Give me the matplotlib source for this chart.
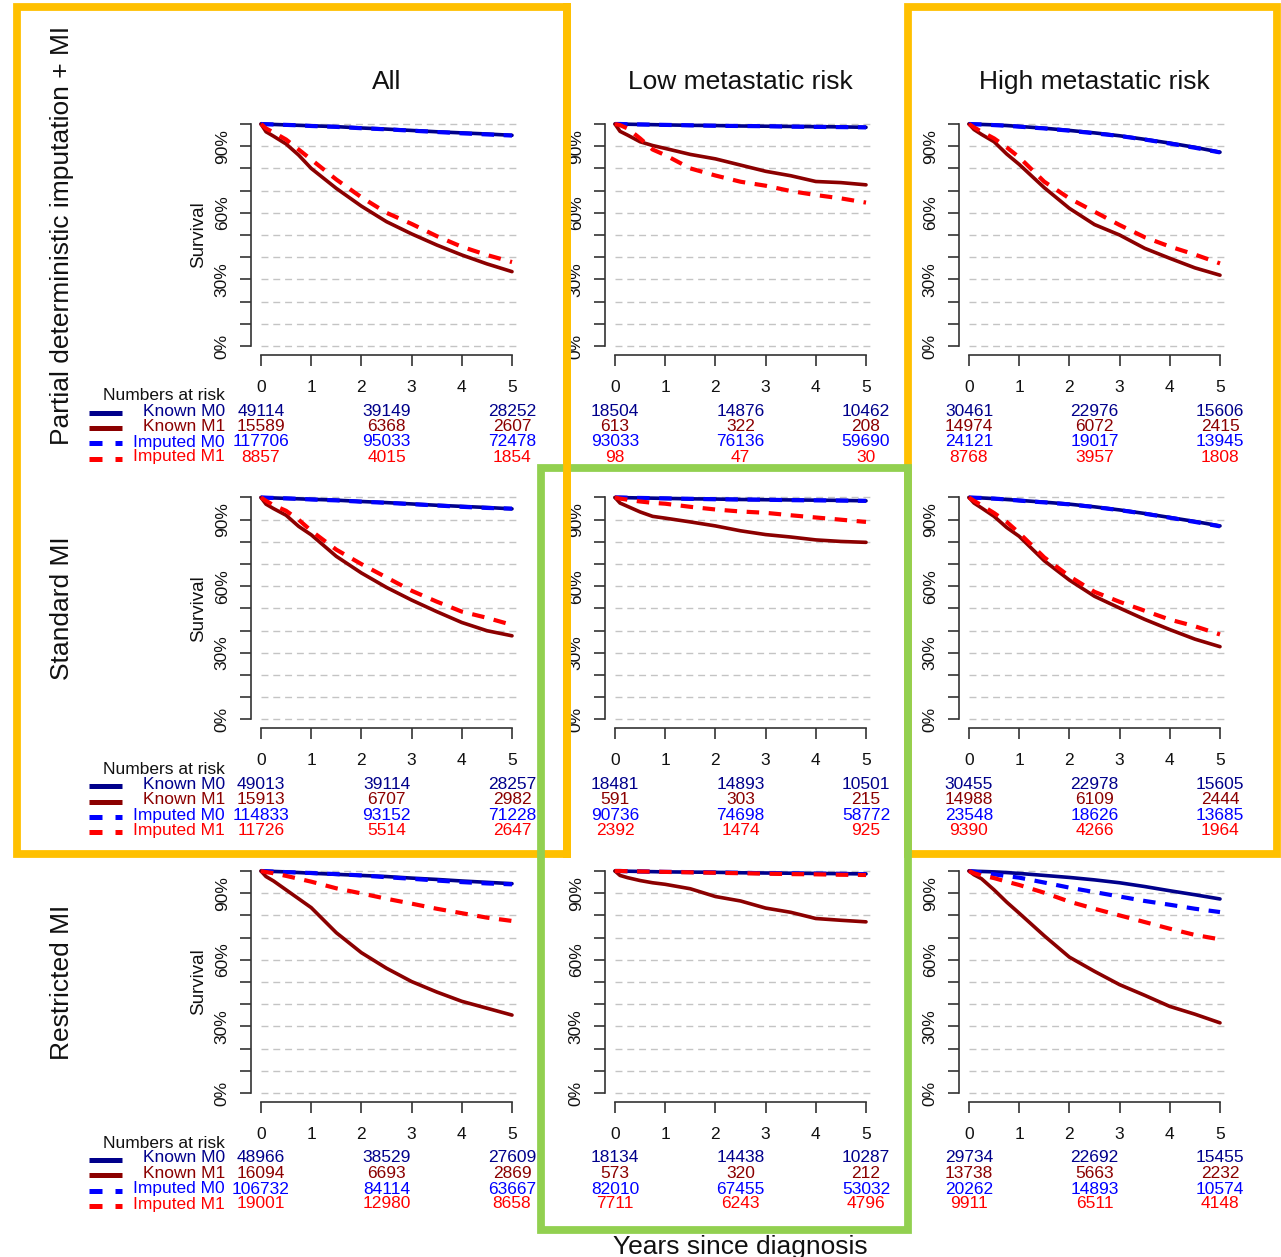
import matplotlib.pyplot as plt
from matplotlib.lines import Line2D
from matplotlib.patches import Rectangle
from matplotlib.transforms import blended_transform_factory

plt.rcParams['font.family'] = ['Liberation Sans', 'DejaVu Sans']

W, H = 1281, 1257

# time grid (years since diagnosis)
times = [0, 0.1, 0.25, 0.5, 0.75, 1, 1.5, 2, 2.5, 3, 3.5, 4, 4.5, 5]
risk_times = [0, 2.5, 5]

col_titles = ['All', 'Low metastatic risk', 'High metastatic risk']
row_titles = ['Partial deterministic imputation + MI', 'Standard MI', 'Restricted MI']
series_names = ['Known M0', 'Known M1', 'Imputed M0', 'Imputed M1']
series_colors = ['#00008B', '#8B0000', '#0000FF', '#FF0000']

# survival estimates per panel: [Known M0, Known M1, Imputed M0, Imputed M1]
pdi_all = [
    [1, .999, .998, .996, .994, .992, .988, .982, .977, .971, .965, .960, .955, .949],
    [1, .965, .945, .91, .86, .80, .71, .63, .56, .505, .455, .41, .37, .335],
    [1, .999, .998, .996, .994, .991, .987, .981, .976, .970, .964, .958, .953, .948],
    [1, .98, .962, .93, .885, .84, .75, .67, .60, .55, .495, .447, .41, .378],
]
pdi_low = [
    [1, 1, .999, .998, .997, .996, .994, .993, .991, .99, .989, .988, .987, .985],
    [1, .967, .95, .92, .903, .89, .863, .843, .815, .787, .767, .741, .736, .726],
    [1, 1, .999, .998, .997, .996, .994, .992, .991, .99, .988, .987, .986, .985],
    [1, .995, .98, .935, .885, .86, .80, .768, .74, .722, .698, .68, .665, .646],
]
pdi_high = [
    [1, .999, .998, .996, .993, .989, .981, .971, .96, .947, .931, .914, .895, .873],
    [1, .975, .953, .92, .865, .818, .713, .62, .547, .50, .44, .395, .352, .319],
    [1, .999, .998, .995, .992, .988, .98, .970, .958, .946, .930, .912, .893, .872],
    [1, .985, .965, .935, .895, .85, .74, .665, .605, .545, .49, .448, .412, .372],
]
std_all = [
    [1, .999, .998, .996, .994, .992, .988, .982, .977, .971, .965, .960, .955, .949],
    [1, .97, .95, .92, .87, .832, .735, .66, .595, .538, .486, .437, .40, .377],
    [1, .999, .998, .996, .994, .991, .987, .981, .976, .970, .964, .958, .953, .950],
    [1, .985, .965, .94, .90, .85, .765, .70, .64, .58, .531, .486, .458, .426],
]
std_low = [
    [1, 1, .999, .998, .997, .996, .994, .993, .991, .99, .989, .988, .987, .985],
    [1, .975, .96, .935, .915, .907, .89, .872, .85, .833, .822, .809, .802, .798],
    [1, 1, .999, .998, .997, .996, .994, .992, .991, .99, .988, .987, .986, .985],
    [1, .995, .99, .982, .976, .972, .958, .946, .937, .931, .92, .91, .90, .89],
]
std_high = [
    [1, .999, .998, .995, .991, .987, .979, .97, .958, .944, .928, .91, .892, .872],
    [1, .975, .953, .915, .865, .825, .715, .628, .555, .502, .451, .405, .362, .328],
    [1, .999, .998, .995, .991, .986, .978, .969, .957, .943, .927, .909, .89, .87],
    [1, .985, .965, .93, .89, .84, .73, .645, .575, .53, .49, .45, .42, .383],
]
res_all = [
    [1, .999, .998, .996, .993, .99, .985, .98, .975, .968, .962, .955, .949, .943],
    [1, .975, .955, .915, .875, .835, .722, .632, .562, .502, .455, .413, .382, .351],
    [1, .999, .997, .995, .993, .991, .986, .98, .972, .965, .957, .95, .944, .94],
    [1, .995, .99, .978, .965, .952, .922, .899, .875, .853, .83, .81, .79, .775],
]
res_low = [
    [1, 1, .999, .998, .997, .996, .995, .994, .992, .991, .99, .989, .988, .987],
    [1, .98, .97, .957, .947, .94, .92, .885, .865, .833, .814, .786, .778, .771],
    [1, 1, .999, .998, .997, .996, .995, .993, .992, .99, .989, .988, .987, .986],
    [1, 1, .999, .998, .997, .996, .994, .992, .99, .988, .986, .985, .983, .982],
]
res_high = [
    [1, .999, .998, .996, .993, .989, .98, .971, .96, .947, .93, .911, .893, .874],
    [1, .983, .965, .915, .86, .81, .708, .612, .548, .488, .44, .39, .355, .316],
    [1, .997, .993, .985, .977, .97, .948, .925, .905, .885, .865, .848, .83, .815],
    [1, .99, .98, .968, .952, .937, .902, .862, .83, .80, .77, .74, .712, .692],
]

# numbers at risk at 0, 2.5 and 5 years
risk_pdi_all = [[49114, 39149, 28252], [15589, 6368, 2607], [117706, 95033, 72478], [8857, 4015, 1854]]
risk_pdi_low = [[18504, 14876, 10462], [613, 322, 208], [93033, 76136, 59690], [98, 47, 30]]
risk_pdi_high = [[30461, 22976, 15606], [14974, 6072, 2415], [24121, 19017, 13945], [8768, 3957, 1808]]
risk_std_all = [[49013, 39114, 28257], [15913, 6707, 2982], [114833, 93152, 71228], [11726, 5514, 2647]]
risk_std_low = [[18481, 14893, 10501], [591, 303, 215], [90736, 74698, 58772], [2392, 1474, 925]]
risk_std_high = [[30455, 22978, 15605], [14988, 6109, 2444], [23548, 18626, 13685], [9390, 4266, 1964]]
risk_res_all = [[48966, 38529, 27609], [16094, 6693, 2869], [106732, 84114, 63667], [19001, 12980, 8658]]
risk_res_low = [[18134, 14438, 10287], [573, 320, 212], [82010, 67455, 53032], [7711, 6243, 4796]]
risk_res_high = [[29734, 22692, 15455], [13738, 5663, 2232], [20262, 14893, 10574], [9911, 6511, 4148]]

surv = [[pdi_all, pdi_low, pdi_high],
        [std_all, std_low, std_high],
        [res_all, res_low, res_high]]
risk = [[risk_pdi_all, risk_pdi_low, risk_pdi_high],
        [risk_std_all, risk_std_low, risk_std_high],
        [risk_res_all, risk_res_low, risk_res_high]]

fig = plt.figure(figsize=(W / 100, H / 100), dpi=100)

# layout in pixels
x0_px = [261, 615, 969]        # where t = 0 sits
y0_px = [346, 719.5, 1093]     # where 0% sits
px_per_year = 50.2
px_per_unit = 222
risk_dy = [65, 80.5, 96, 111]  # rows of the risk table below 0%


def fy(y):
    return 1 - y / H


for r in range(3):
    for c in range(3):
        left = x0_px[c] - 0.2 * px_per_year
        width = 5.4 * px_per_year
        bottom = y0_px[r] + 0.04 * px_per_unit
        height = 1.08 * px_per_unit
        ax = fig.add_axes([left / W, fy(bottom), width / W, height / H])
        ax.set_xlim(-0.2, 5.2)
        ax.set_ylim(-0.04, 1.04)
        ax.patch.set_alpha(0)

        for s in [i / 10 for i in range(11)]:
            ax.plot([0, 5.07], [s, s], color='#C4C4C4', lw=1,
                    dashes=(5, 3.5), zorder=1)

        data = surv[r][c]
        for k in range(4):
            if k < 2:
                ax.plot(times, data[k], color=series_colors[k], lw=2.6,
                        solid_capstyle='round', solid_joinstyle='round',
                        zorder=3)
            else:
                ax.plot(times, data[k], color=series_colors[k], lw=3.0,
                        dashes=(3, 2.3), zorder=4)

        for side in ['top', 'right']:
            ax.spines[side].set_visible(False)
        ax.spines['left'].set_bounds(0, 1)
        ax.spines['bottom'].set_bounds(0, 5)
        for side in ['left', 'bottom']:
            ax.spines[side].set_color('#333333')
            ax.spines[side].set_linewidth(1.2)

        ax.set_xticks(range(6))
        ax.set_xticklabels([str(i) for i in range(6)])
        ax.set_yticks([i / 10 for i in range(11)])
        ax.set_yticklabels(['0%', '', '', '30%', '', '', '60%', '', '', '90%', ''])
        ax.tick_params(axis='both', length=7.8, width=1.2, color='#333333',
                       labelsize=12.5, labelcolor='#111111')
        ax.tick_params(axis='x', pad=10)
        ax.tick_params(axis='y', pad=7.5, labelrotation=90)
        for lab in ax.get_yticklabels():
            lab.set_va('center')

        tr = blended_transform_factory(ax.transData, fig.transFigure)
        table = risk[r][c]
        for k in range(4):
            for j, t in enumerate(risk_times):
                ax.text(t, fy(y0_px[r] + risk_dy[k]), str(table[k][j]),
                        transform=tr, ha='center', va='center',
                        fontsize=12.5, color=series_colors[k], clip_on=False)

        if r == 0:
            ax.text(2.5, fy(82), col_titles[c], transform=tr, ha='center',
                    va='center', fontsize=19, color='#111111')
        if r == 2 and c == 1:
            ax.text(2.5, fy(1247), 'Years since diagnosis', transform=tr,
                    ha='center', va='center', fontsize=19, color='#111111')

    # row label, y label and the legend of the risk table
    yc = y0_px[r] - 111
    fig.text(62 / W, fy(yc), row_titles[r], rotation=90, ha='center',
             va='center', fontsize=19, color='#111111')
    fig.text(199 / W, fy(yc), 'Survival', rotation=90, ha='center',
             va='center', fontsize=13.5, color='#111111')
    fig.text(225 / W, fy(y0_px[r] + 50), 'Numbers at risk', ha='right',
             va='center', fontsize=12.5, color='#111111')
    for k in range(4):
        yy = y0_px[r] + risk_dy[k]
        fig.text(225 / W, fy(yy), series_names[k], ha='right', va='center',
                 fontsize=12.5, color=series_colors[k])
        ln = Line2D([89 / W, 122 / W], [fy(yy + 1.5)] * 2,
                    transform=fig.transFigure, color=series_colors[k], lw=3.6,
                    solid_capstyle='butt')
        if k >= 2:
            ln.set_dashes((2.6, 2.6))
        fig.add_artist(ln)

# highlight boxes
orange = '#FFC000'
green = '#92D050'
box_lw = 5.6


def box(x1, y1, x2, y2, color):
    rect = Rectangle((x1 / W, fy(y2)), (x2 - x1) / W, (y2 - y1) / H,
                     transform=fig.transFigure, fill=False, edgecolor=color,
                     lw=box_lw, joinstyle='miter', zorder=10)
    fig.add_artist(rect)


box(17, 6.5, 567, 854, orange)
box(908, 6.5, 1277, 854, orange)
box(541, 468, 908, 1229.5, green)
fig.add_artist(Line2D([567 / W, 567 / W], [fy(2.6), fy(857.9)],
                      transform=fig.transFigure, color=orange, lw=box_lw,
                      solid_capstyle='butt', zorder=11))

fig.savefig('out.png', dpi=100)
